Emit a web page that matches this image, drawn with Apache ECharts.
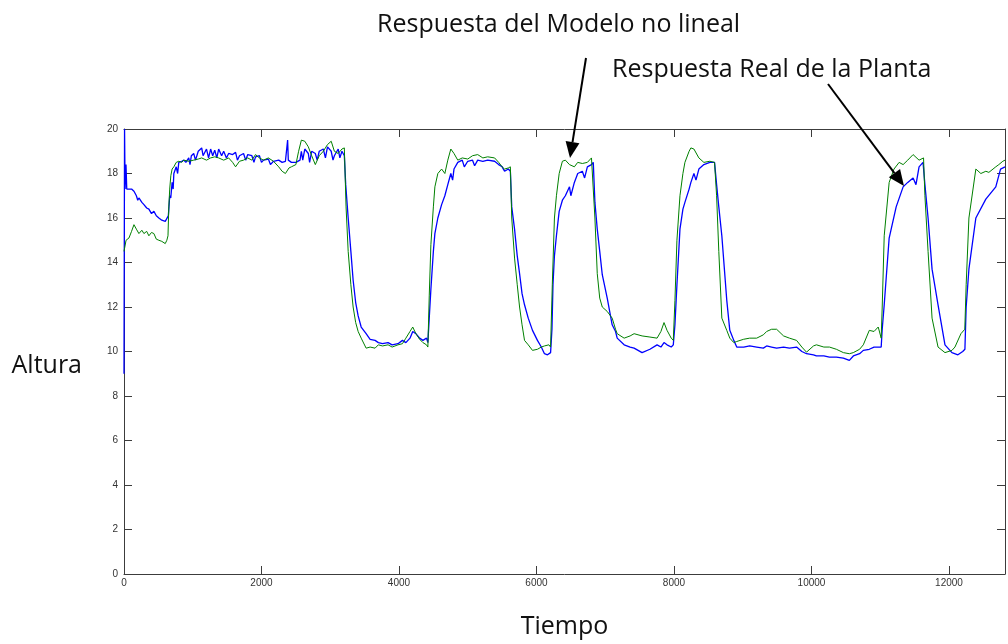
<!DOCTYPE html>
<html>
<head>
<meta charset="utf-8">
<script src="https://cdn.jsdelivr.net/npm/echarts@6/dist/echarts.min.js"></script>
<style>
html,body{margin:0;padding:0;background:#fff;}
#chart{width:1008px;height:644px;}
</style>
</head>
<body>
<div id="chart"></div>
<script>
// ---- Data ----
const xLabelTicks = [0, 2000, 4000, 6000, 8000, 10000, 12000];
const yLabelTicks = [0, 2, 4, 6, 8, 10, 12, 14, 16, 18, 20];

// Respuesta Real de la Planta (blue): [tiempo, altura]
const plantResponse = [
[0,9.0],[8,20.0],[16,17.3],[29,18.4],[40,17.3],[72,17.3],[110,17.3],[145,17.2],[180,17.0],[200,16.8],[217,16.9],[260,16.7],[290,16.6],[330,16.45],[362,16.4],[400,16.2],[435,16.3],[470,16.1],[507,16.0],[550,15.9],[600,15.85],[623,15.8],[645,16.1],[665,17.0],[680,16.9],[700,17.6],[715,17.3],[725,18.0],[760,18.3],[780,18.0],[797,18.5],[840,18.55],[870,18.6],[900,18.5],[942,18.7],[960,18.4],[980,18.8],[1014,18.9],[1040,18.6],[1080,19.0],[1130,19.15],[1150,18.8],[1200,19.1],[1230,18.7],[1260,19.1],[1290,18.8],[1320,19.05],[1350,18.7],[1377,19.1],[1420,18.8],[1450,19.0],[1490,18.7],[1522,18.9],[1580,18.85],[1623,18.95],[1650,18.6],[1680,18.8],[1739,18.9],[1770,18.6],[1800,18.85],[1860,18.8],[1890,18.5],[1913,18.75],[1970,18.8],[2000,18.5],[2029,18.6],[2100,18.65],[2130,18.4],[2174,18.55],[2250,18.6],[2300,18.5],[2348,18.55],[2370,18.5],[2380,19.5],[2390,18.6],[2435,18.5],[2500,18.5],[2560,18.6],[2580,19.0],[2600,18.6],[2630,19.1],[2681,18.9],[2700,18.5],[2730,19.0],[2783,18.9],[2810,18.6],[2840,19.0],[2899,19.1],[2930,18.7],[2960,19.2],[3014,19.0],[3040,18.6],[3060,18.8],[3116,19.1],[3140,18.7],[3170,19.0],[3205,18.8],
[3225,17.5],[3261,16.0],[3300,14.5],[3333,13.2],[3370,12.2],[3406,11.6],[3450,11.1],[3522,10.8],[3580,10.55],[3652,10.5],[3700,10.4],[3760,10.35],[3841,10.4],[3900,10.3],[3986,10.35],[4050,10.5],[4100,10.4],[4160,10.6],[4200,10.9],[4246,10.8],[4300,10.6],[4348,10.5],[4400,10.6],[4420,10.4],
[4440,11.5],[4464,12.8],[4500,14.5],[4522,15.3],[4565,16.0],[4620,16.6],[4667,17.0],[4710,17.5],[4754,18.0],[4780,17.7],[4800,18.2],[4855,18.5],[4920,18.6],[4950,18.3],[5000,18.55],[5070,18.6],[5100,18.35],[5145,18.6],[5220,18.55],[5290,18.6],[5391,18.55],[5450,18.4],[5500,18.3],[5536,18.1],[5590,18.2],[5620,18.1],
[5640,16.5],[5681,15.5],[5720,14.3],[5754,13.5],[5790,12.6],[5826,12.1],[5880,11.5],[5942,10.95],[6014,10.5],[6070,10.2],[6116,9.9],[6160,9.85],[6205,9.95],
[6225,11.0],[6240,13.0],[6261,14.3],[6290,15.2],[6330,16.3],[6377,16.8],[6420,17.0],[6480,17.4],[6500,17.0],[6551,17.6],[6600,18.0],[6667,18.1],[6700,17.8],[6740,18.3],[6800,18.4],[6826,18.5],
[6850,16.7],[6884,15.5],[6920,14.5],[6957,13.45],[7029,12.4],[7101,11.2],[7150,10.9],[7174,10.6],[7275,10.3],[7362,10.2],[7420,10.15],[7536,9.95],[7650,10.1],[7754,10.3],[7810,10.2],[7855,10.4],[7899,10.3],[7960,10.2],[7990,10.3],
[8014,11.2],[8043,13.0],[8087,15.5],[8130,16.4],[8159,16.7],[8220,17.3],[8246,17.6],[8290,18.0],[8320,17.7],[8362,18.2],[8435,18.4],[8522,18.5],[8590,18.5],
[8620,17.5],[8652,16.5],[8696,15.2],[8768,12.3],[8812,10.95],[8870,10.5],[8913,10.2],[9014,10.2],[9101,10.25],[9203,10.2],[9300,10.15],[9348,10.25],[9420,10.2],[9493,10.15],[9594,10.2],[9680,10.15],[9783,10.2],[9860,10.0],[9928,9.9],[10029,9.85],[10072,9.8],[10180,9.8],[10261,9.75],[10362,9.75],[10464,9.7],[10551,9.6],[10609,9.8],[10700,9.9],[10754,10.05],[10841,10.1],[10910,10.2],[10971,10.2],[11014,10.2],
[11029,11.0],[11058,12.1],[11130,15.1],[11232,16.5],[11333,17.4],[11400,17.6],[11478,17.8],[11520,17.5],[11565,18.3],[11623,18.5],
[11650,17.5],[11696,16.0],[11754,13.7],[11841,12.1],[11942,10.3],[12043,9.95],[12130,9.85],[12200,10.0],[12232,10.1],
[12250,12.0],[12290,13.7],[12391,16.0],[12536,16.85],[12681,17.4],[12750,18.2],[12815,18.3]
];

// Respuesta del Modelo no lineal (green): [tiempo, altura]
const modelResponse = [
[0,14.5],[30,15.0],[72,15.1],[110,15.4],[145,15.7],[180,15.5],[217,15.3],[260,15.45],[290,15.3],[330,15.4],[362,15.2],[400,15.35],[435,15.3],[470,15.05],[507,15.0],[550,14.95],[600,14.85],[623,15.0],[640,15.2],[652,16.5],[665,17.3],[681,17.9],[700,18.2],[725,18.3],[760,18.5],[797,18.55],[840,18.5],[870,18.6],[942,18.55],[1014,18.6],[1080,18.65],[1130,18.7],[1200,18.6],[1260,18.7],[1320,18.75],[1377,18.7],[1450,18.6],[1522,18.7],[1580,18.5],[1623,18.3],[1680,18.55],[1739,18.6],[1800,18.7],[1860,18.6],[1913,18.85],[1970,18.7],[2029,18.6],[2100,18.7],[2174,18.55],[2250,18.3],[2300,18.1],[2348,18.0],[2400,18.25],[2435,18.3],[2500,18.4],[2540,19.0],[2580,19.5],[2630,19.45],[2681,19.2],[2730,18.8],[2783,18.4],[2840,18.8],[2899,19.0],[2960,19.3],[3014,19.45],[3060,19.0],[3116,18.9],[3170,19.1],[3205,19.15],
[3230,16.5],[3261,14.5],[3300,13.0],[3333,12.0],[3370,11.3],[3406,10.9],[3450,10.6],[3522,10.15],[3580,10.2],[3652,10.15],[3700,10.3],[3760,10.25],[3841,10.3],[3900,10.2],[3986,10.3],[4050,10.35],[4100,10.6],[4160,10.9],[4200,11.1],[4246,10.8],[4300,10.55],[4348,10.4],[4400,10.3],[4420,10.2],
[4440,12.5],[4464,14.8],[4500,16.5],[4522,17.4],[4565,18.0],[4620,18.2],[4667,18.0],[4710,18.6],[4754,19.1],[4800,18.9],[4855,18.6],[4920,18.7],[5000,18.65],[5070,18.8],[5145,18.85],[5220,18.7],[5290,18.75],[5391,18.7],[5450,18.5],[5500,18.3],[5536,18.2],[5590,18.25],[5620,18.3],
[5640,16.0],[5681,14.2],[5720,13.0],[5754,12.0],[5790,11.2],[5826,10.5],[5880,10.3],[5942,10.05],[6014,10.1],[6070,10.2],[6116,10.25],[6180,10.3],[6205,10.2],
[6230,13.0],[6261,16.0],[6290,17.0],[6330,18.0],[6377,18.55],[6420,18.6],[6480,18.4],[6551,18.3],[6600,18.5],[6667,18.45],[6740,18.5],[6800,18.7],[6826,18.7],
[6850,16.0],[6884,13.5],[6920,12.4],[6957,12.0],[7029,11.8],[7101,11.5],[7150,11.0],[7174,10.8],[7275,10.6],[7362,10.7],[7420,10.8],[7536,10.7],[7650,10.65],[7754,10.6],[7810,10.9],[7855,11.3],[7899,10.95],[7960,10.6],[7990,10.5],
[8014,12.3],[8043,15.0],[8087,17.0],[8130,18.0],[8159,18.5],[8220,19.0],[8246,19.15],[8290,19.1],[8362,18.7],[8435,18.5],[8522,18.55],[8590,18.5],
[8620,17.0],[8652,14.5],[8696,11.5],[8768,10.95],[8812,10.6],[8870,10.4],[8913,10.45],[9014,10.55],[9101,10.6],[9203,10.6],[9300,10.75],[9348,10.9],[9420,11.0],[9493,11.0],[9594,10.7],[9680,10.6],[9783,10.5],[9860,10.2],[9928,9.97],[10029,10.25],[10072,10.3],[10180,10.2],[10261,10.2],[10362,10.1],[10464,9.95],[10551,9.9],[10609,9.95],[10700,10.1],[10754,10.3],[10841,10.95],[10910,10.9],[10971,11.1],[11014,10.6],
[11029,12.0],[11058,15.2],[11130,17.6],[11200,18.2],[11275,18.5],[11333,18.4],[11400,18.6],[11478,18.85],[11565,18.6],[11630,18.7],
[11650,17.0],[11696,14.5],[11754,11.5],[11841,10.2],[11942,9.95],[12043,10.05],[12087,10.2],[12174,10.8],[12230,11.0],
[12250,13.0],[12290,16.0],[12391,18.2],[12464,18.0],[12536,18.1],[12580,18.05],[12681,18.3],[12725,18.4],[12783,18.55],[12815,18.6]
];

const xName = 'Tiempo';
const yName = 'Altura';
const noteModel = 'Respuesta del Modelo no lineal';
const notePlant = 'Respuesta Real de la Planta';

const axisColor = '#3c3c3c';
const tickFont = 'Liberation Sans';
const textFont = 'Open Sans';

const chart = echarts.init(document.getElementById('chart'), null, {renderer: 'canvas'});

function arrow(x1, y1, x2, y2) {
  const dx = x2 - x1, dy = y2 - y1;
  const len = Math.sqrt(dx*dx + dy*dy);
  const ux = dx/len, uy = dy/len;
  const hl = 16, hw = 7;
  const bx = x2 - ux*hl, by = y2 - uy*hl;
  return [
    {type:'line', shape:{x1:x1, y1:y1, x2:bx, y2:by}, style:{stroke:'#000', lineWidth:2}, z:100},
    {type:'polygon', shape:{points:[[x2,y2],[bx - uy*hw, by + ux*hw],[bx + uy*hw, by - ux*hw]]}, style:{fill:'#000'}, z:100}
  ];
}

const option = {
  animation: false,
  backgroundColor: '#ffffff',
  grid: {left: 124, top: 129, right: 1, bottom: 67, containLabel: false},
  xAxis: [
    {
      type: 'value', min: 0, max: 12815, interval: 2000, position: 'bottom',
      name: xName, nameLocation: 'middle', nameGap: 40,
      nameTextStyle: {fontFamily: textFont, fontSize: 25, color: '#111'},
      axisLine: {show: true, lineStyle: {color: axisColor, width: 1}},
      axisTick: {show: true, inside: true, length: 8, lineStyle: {color: axisColor}},
      axisLabel: {
        fontFamily: tickFont, fontSize: 10, color: '#333', margin: 4,
        formatter: v => (xLabelTicks.indexOf(v) >= 0 ? String(v) : '')
      },
      splitLine: {show: false}
    },
    {
      type: 'value', min: 0, max: 12815, interval: 2000, position: 'top',
      axisLine: {show: true, onZero: false, lineStyle: {color: axisColor, width: 1}},
      axisTick: {show: true, inside: true, length: 8, lineStyle: {color: axisColor}},
      axisLabel: {show: false}, splitLine: {show: false}
    }
  ],
  yAxis: [
    {
      type: 'value', min: 0, max: 20, interval: 2, position: 'left',
      name: yName, nameLocation: 'middle', nameRotate: 0, nameGap: 42,
      nameTextStyle: {fontFamily: textFont, fontSize: 25, color: '#111', align: 'right', verticalAlign: 'top', lineHeight: 28},
      axisLine: {show: true, lineStyle: {color: axisColor, width: 1}},
      axisTick: {show: true, inside: true, length: 8, lineStyle: {color: axisColor}},
      axisLabel: {
        fontFamily: tickFont, fontSize: 10, color: '#333', margin: 6,
        formatter: v => (yLabelTicks.indexOf(v) >= 0 ? String(v) : '')
      },
      splitLine: {show: false}
    },
    {
      type: 'value', min: 0, max: 20, interval: 2, position: 'right',
      axisLine: {show: true, onZero: false, lineStyle: {color: axisColor, width: 1}},
      axisTick: {show: true, inside: true, length: 8, lineStyle: {color: axisColor}},
      axisLabel: {show: false}, splitLine: {show: false}
    }
  ],
  series: [
    {
      name: notePlant, type: 'line', xAxisIndex: 0, yAxisIndex: 0,
      data: plantResponse, showSymbol: false, symbol: 'none',
      lineStyle: {color: '#0000ff', width: 1.3}, z: 2
    },
    {
      name: noteModel, type: 'line', xAxisIndex: 0, yAxisIndex: 0,
      data: modelResponse, showSymbol: false, symbol: 'none',
      lineStyle: {color: '#008000', width: 1}, z: 3
    }
  ],
  graphic: [
    {type: 'text', left: 377, top: 12, style: {text: noteModel, font: '25px "Open Sans"', fill: '#111'}, z: 100},
    {type: 'text', left: 612, top: 57, style: {text: notePlant, font: '25px "Open Sans"', fill: '#111'}, z: 100}
  ].concat(arrow(586, 58, 570, 158), arrow(828, 84, 904, 186))
};

chart.setOption(option);
</script>
</body>
</html>
